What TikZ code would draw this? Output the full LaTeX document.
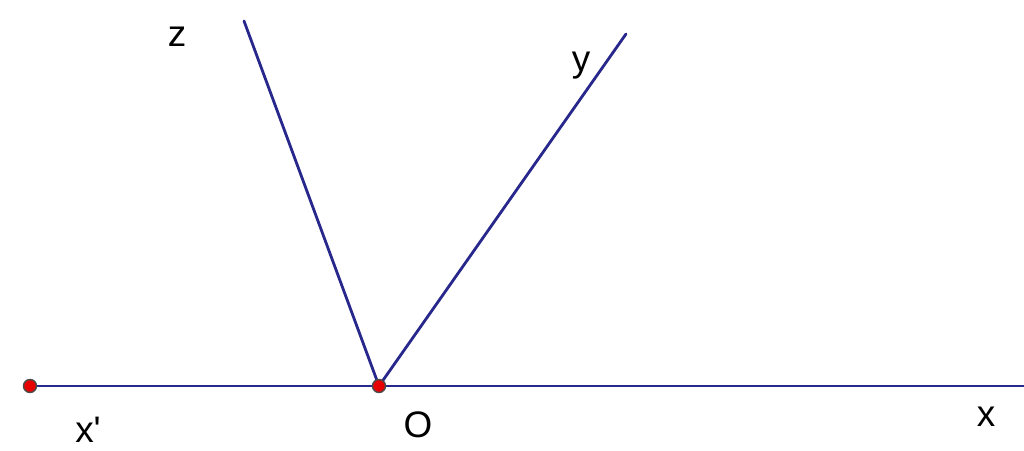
\documentclass[tikz,border=0pt]{standalone}
\usepackage{fontspec}
\setmainfont{Liberation Sans}
\definecolor{raycol}{RGB}{40,40,140}
\definecolor{dotcol}{RGB}{230,0,0}
\begin{document}
\begin{tikzpicture}[font=\fontsize{10.5}{12}\selectfont, line join=round, line cap=round, >=stealth,
	ray/.style={raycol, line width=0.8pt},
	dot/.style={circle, fill=dotcol, draw=black!70, line width=0.4pt, inner sep=0pt, minimum size=0.13cm}]
\useasboundingbox (0,0) rectangle (10.24,4.51);
\coordinate (O) at (3.79,0.65);
\coordinate (X) at (10.24,0.65);
\coordinate (Xp) at (0.30,0.65);
\coordinate (Y) at (6.26,4.17);
\coordinate (Z) at (2.44,4.30);
\draw[ray] (Xp) -- (X);
\draw[ray] (O) -- (Y);
\draw[ray] (O) -- (Z);
\node[dot] (dXp) at (Xp) {};
\node[dot] (dO) at (O) {};
\node (lz) at (1.77,4.14) {z};
\node (ly) at (5.81,3.85) {y};
\node (lxp) at (0.88,0.21) {x\textquotesingle};
\node (lO) at (4.18,0.26) {O};
\node (lx) at (9.86,0.34) {x};
\end{tikzpicture}
\end{document}
